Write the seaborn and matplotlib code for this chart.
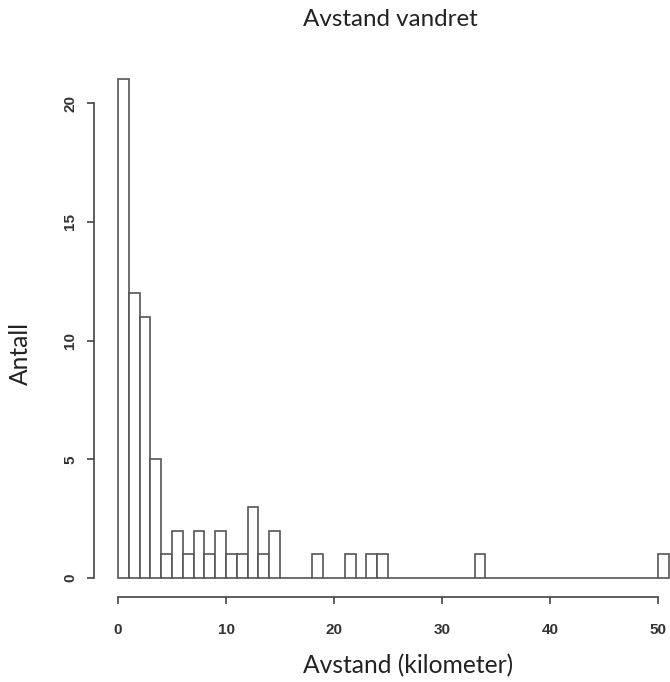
# histogram of horizontal distances, R-style look
import numpy as np
import matplotlib
matplotlib.use("Agg")
import matplotlib.pyplot as plt
import seaborn as sns

# ------------------------------------------
# data (1 km bins, counts)
# ------------------------------------------

bin_edges = list(range(0, 52))
bin_counts = [21, 12, 11, 5, 1, 2, 1, 2, 1, 2,
              1, 1, 3, 1, 2, 0, 0, 0, 1, 0,
              0, 1, 0, 1, 1, 0, 0, 0, 0, 0,
              0, 0, 0, 1, 0, 0, 0, 0, 0, 0,
              0, 0, 0, 0, 0, 0, 0, 0, 0, 0,
              1]
x_ticks = [0, 10, 20, 30, 40, 50]
y_ticks = [0, 5, 10, 15, 20]

title = "Avstand vandret"
xlabel = "Avstand (kilometer)"
ylabel = "Antall"

bin_mid = [e + 0.5 for e in bin_edges[:-1]]

# ------------------------------------------
# figure
# ------------------------------------------

sns.set_style("white")

fig = plt.figure(figsize=(6.7, 6.82), dpi=100)
ax = fig.add_axes([118 / 670, 104 / 682, 551 / 670, 510.6 / 682])

sns.histplot(
    x=bin_mid,
    weights=bin_counts,
    bins=bin_edges,
    color="white",
    edgecolor="#555555",
    linewidth=1.2,
    alpha=1,
    ax=ax
)

for p in ax.patches:
    p.set_clip_on(False)

ax.set_xlim(0, 51)
ax.set_ylim(0, 21.5)

# detached R-style axes
sns.despine(ax=ax)
ax.spines["left"].set_position(("outward", 17.3))
ax.spines["bottom"].set_position(("outward", 13.7))
ax.spines["left"].set_bounds(0, 20)
ax.spines["bottom"].set_bounds(0, 50)
for s in ["left", "bottom"]:
    ax.spines[s].set_color("#444444")
    ax.spines[s].set_linewidth(1.2)

ax.set_xticks(x_ticks)
ax.set_yticks(y_ticks)
ax.tick_params(axis="both", bottom=True, left=True, direction="out",
               length=5, width=1.2, color="#444444",
               labelcolor="#333333", labelsize=11)
ax.tick_params(axis="x", pad=14)
ax.tick_params(axis="y", pad=7)
for lab in ax.get_xticklabels():
    lab.set_fontweight("bold")
    lab.set_family("Liberation Sans")
for lab in ax.get_yticklabels():
    lab.set_rotation(90)
    lab.set_va("center")
    lab.set_fontweight("bold")
    lab.set_family("Liberation Sans")

ax.set_xlabel("")
ax.set_ylabel("")

fig.text(390 / 670, 1 - 20 / 682, title, ha="center", va="center",
         family="Lato", fontsize=17.4, color="#222222")
fig.text(408 / 670, 1 - 666 / 682, xlabel, ha="center", va="center",
         family="Lato", fontsize=17.7, color="#222222")
fig.text(20 / 670, 1 - 353 / 682, ylabel, ha="center", va="center",
         rotation=90, family="Lato", fontsize=17.7, color="#222222")

plt.savefig("out.png", dpi=100)
